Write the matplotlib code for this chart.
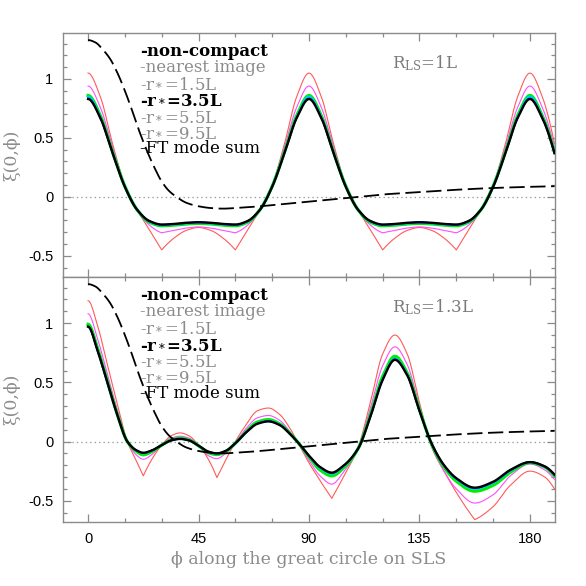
import numpy as np
import matplotlib
matplotlib.use("Agg")
import matplotlib.pyplot as plt
from matplotlib.ticker import MultipleLocator, FixedLocator, FixedFormatter

plt.rcParams['font.family'] = ['Liberation Sans', 'DejaVu Sans']
plt.rcParams['mathtext.fontset'] = 'dejavuserif'
plt.rcParams['axes.unicode_minus'] = False
plt.rcParams['lines.scale_dashes'] = False

# ---------------- data ----------------
# non-compact correlation (same in both panels)
nc_phi = [0, 3, 6, 9, 12, 15, 18, 21, 24, 27, 30, 33, 36, 40, 45, 50, 55, 60, 70, 80,
          90, 100, 110, 120, 135, 150, 165, 180, 190]
nc_val = [1.33, 1.31, 1.25, 1.17, 1.05, 0.90, 0.73, 0.55, 0.39, 0.25, 0.13, 0.05, 0.0,
          -0.05, -0.08, -0.095, -0.10, -0.095, -0.08, -0.06, -0.04, -0.02, 0.0, 0.02,
          0.04, 0.06, 0.075, 0.085, 0.09]

# top panel, R_LS = 1L
phi_top = [0, 5, 10, 15, 20, 25, 30, 35, 40, 45, 50, 55, 60, 65, 70, 75, 80, 85, 90, 95,
           100, 105, 110, 115, 120, 125, 130, 135, 140, 145, 150, 155, 160, 165, 170, 175,
           180, 185, 190]
nearest_top = [1.05, 0.85, 0.45, 0.10, -0.11, -0.28, -0.45, -0.35, -0.285, -0.26, -0.285,
               -0.35, -0.45, -0.28, -0.11, 0.10, 0.45, 0.85, 1.05, 0.85, 0.45, 0.10, -0.11,
               -0.28, -0.45, -0.35, -0.285, -0.26, -0.285, -0.35, -0.45, -0.28, -0.11, 0.10,
               0.45, 0.85, 1.05, 0.85, 0.45]
r15_top = [0.94, 0.76, 0.42, 0.10, -0.11, -0.24, -0.305, -0.285, -0.265, -0.255, -0.265,
           -0.285, -0.305, -0.24, -0.11, 0.10, 0.42, 0.76, 0.94, 0.76, 0.42, 0.10, -0.11,
           -0.24, -0.305, -0.285, -0.265, -0.255, -0.265, -0.285, -0.305, -0.24, -0.11, 0.10,
           0.42, 0.76, 0.94, 0.76, 0.42]
r35_top = [0.86, 0.69, 0.38, 0.09, -0.11, -0.215, -0.245, -0.24, -0.23, -0.225, -0.23,
           -0.24, -0.245, -0.215, -0.11, 0.09, 0.38, 0.69, 0.86, 0.69, 0.38, 0.09, -0.11,
           -0.215, -0.245, -0.24, -0.23, -0.225, -0.23, -0.24, -0.245, -0.215, -0.11, 0.09,
           0.38, 0.69, 0.86, 0.69, 0.38]
r55_top = [0.85, 0.68, 0.375, 0.088, -0.11, -0.21, -0.24, -0.235, -0.225, -0.22, -0.225,
           -0.235, -0.24, -0.21, -0.11, 0.088, 0.375, 0.68, 0.85, 0.68, 0.375, 0.088, -0.11,
           -0.21, -0.24, -0.235, -0.225, -0.22, -0.225, -0.235, -0.24, -0.21, -0.11, 0.088,
           0.375, 0.68, 0.85, 0.68, 0.375]
r95_top = [0.835, 0.672, 0.372, 0.086, -0.11, -0.207, -0.237, -0.232, -0.222, -0.217,
           -0.222, -0.232, -0.237, -0.207, -0.11, 0.086, 0.372, 0.672, 0.835, 0.672, 0.372,
           0.086, -0.11, -0.207, -0.237, -0.232, -0.222, -0.217, -0.222, -0.232, -0.237,
           -0.207, -0.11, 0.086, 0.372, 0.672, 0.835, 0.672, 0.372]
ft_top = [0.83, 0.67, 0.37, 0.085, -0.11, -0.205, -0.235, -0.23, -0.22, -0.215, -0.22,
          -0.23, -0.235, -0.205, -0.11, 0.085, 0.37, 0.67, 0.83, 0.67, 0.37, 0.085, -0.11,
          -0.205, -0.235, -0.23, -0.22, -0.215, -0.22, -0.23, -0.235, -0.205, -0.11, 0.085,
          0.37, 0.67, 0.83, 0.67, 0.37]

# bottom panel, R_LS = 1.3L
phi_bot = [0, 4, 8, 12, 16, 19.5, 22.5, 26, 30, 34, 37.5, 41, 45, 49, 52.5, 56, 60, 64, 69,
           73.5, 78, 82, 86, 90, 94.5, 99.3, 104, 110, 115, 120, 125, 130, 135, 140, 145,
           150, 157.5, 165, 172, 180, 186, 190]
nearest_bot = [1.19, 0.97, 0.64, 0.31, 0.0, -0.155, -0.29, -0.15, -0.03, 0.05, 0.073, 0.05,
               -0.03, -0.15, -0.305, -0.16, 0.0, 0.13, 0.26, 0.283, 0.23, 0.12, -0.03, -0.18,
               -0.33, -0.48, -0.30, -0.05, 0.33, 0.74, 0.90, 0.74, 0.33, -0.05, -0.25, -0.43,
               -0.66, -0.55, -0.37, -0.25, -0.30, -0.40]
r15_bot = [1.08, 0.86, 0.56, 0.26, 0.0, -0.11, -0.15, -0.11, -0.025, 0.03, 0.045, 0.03,
           -0.035, -0.12, -0.145, -0.10, -0.01, 0.10, 0.20, 0.22, 0.18, 0.09, -0.025, -0.16,
           -0.29, -0.36, -0.26, -0.055, 0.28, 0.64, 0.80, 0.65, 0.30, -0.04, -0.25, -0.40,
           -0.52, -0.45, -0.29, -0.19, -0.24, -0.32]
r35_bot = [0.99, 0.78, 0.50, 0.225, 0.0, -0.08, -0.112, -0.085, -0.03, 0.015, 0.028,
           0.015, -0.035, -0.095, -0.11, -0.085, -0.015, 0.075, 0.165, 0.185, 0.15, 0.075,
           -0.02, -0.13, -0.24, -0.29, -0.225, -0.06, 0.225, 0.55, 0.72, 0.58, 0.27, -0.025,
           -0.215, -0.335, -0.42, -0.37, -0.26, -0.178, -0.215, -0.29]
r55_bot = [0.975, 0.765, 0.493, 0.222, 0.0, -0.074, -0.10, -0.078, -0.03, 0.012, 0.024,
           0.012, -0.035, -0.088, -0.104, -0.082, -0.015, 0.072, 0.155, 0.175, 0.145, 0.072,
           -0.02, -0.123, -0.223, -0.272, -0.212, -0.06, 0.215, 0.53, 0.70, 0.567, 0.263,
           -0.022, -0.205, -0.318, -0.40, -0.35, -0.247, -0.175, -0.212, -0.283]
r95_bot = [0.972, 0.762, 0.491, 0.221, 0.0, -0.073, -0.097, -0.076, -0.03, 0.011, 0.023,
           0.011, -0.035, -0.086, -0.102, -0.081, -0.015, 0.071, 0.152, 0.172, 0.142, 0.071,
           -0.02, -0.121, -0.218, -0.266, -0.207, -0.06, 0.212, 0.525, 0.695, 0.563, 0.261,
           -0.021, -0.202, -0.313, -0.393, -0.343, -0.243, -0.174, -0.21, -0.28]
ft_bot = [0.97, 0.76, 0.49, 0.22, 0.0, -0.072, -0.095, -0.075, -0.03, 0.01, 0.022, 0.01,
          -0.035, -0.085, -0.10, -0.08, -0.015, 0.07, 0.15, 0.17, 0.14, 0.07, -0.02, -0.12,
          -0.215, -0.263, -0.205, -0.06, 0.21, 0.52, 0.69, 0.56, 0.26, -0.02, -0.20, -0.31,
          -0.39, -0.34, -0.24, -0.174, -0.21, -0.28]

# cusp positions (degrees) where the nearest-image style curves have corners
cusps_top_red = [30, 60, 120, 150]
cusps_top_mag = [30, 60, 120, 150]
cusps_bot_red = [22.5, 52.5, 99.3, 157.5]

legend_labels = ["-non-compact", "-nearest image", "-r$_*$=1.5L", "-r$_*$=3.5L",
                 "-r$_*$=5.5L", "-r$_*$=9.5L", "-FT mode sum"]
panel_labels = [r"R$_{\rm LS}$=1L", r"R$_{\rm LS}$=1.3L"]
xticks = [0, 45, 90, 135, 180]
xtick_labels = ["0", "45", "90", "135", "180"]
yticks = [-0.5, 0, 0.5, 1]
ytick_labels = ["-0.5", "0", "0.5", "1"]


# ---------------- drawing helpers ----------------
def _pchip_slopes(x, y):
    h = np.diff(x)
    d = np.diff(y) / h
    n = len(x)
    m = np.zeros(n)
    if n == 2:
        m[:] = d[0]
        return m
    for k in range(1, n - 1):
        if d[k - 1] * d[k] <= 0:
            m[k] = 0.0
        else:
            w1 = 2 * h[k] + h[k - 1]
            w2 = h[k] + 2 * h[k - 1]
            m[k] = (w1 + w2) / (w1 / d[k - 1] + w2 / d[k])

    def end(h0, h1, d0, d1):
        s = ((2 * h0 + h1) * d0 - h0 * d1) / (h0 + h1)
        if np.sign(s) != np.sign(d0):
            s = 0.0
        elif np.sign(d0) != np.sign(d1) and abs(s) > abs(3 * d0):
            s = 3 * d0
        return s
    m[0] = end(h[0], h[1], d[0], d[1])
    m[-1] = end(h[-1], h[-2], d[-1], d[-2])
    return m


def _pchip_eval(x, y, flat_start=False, npts=30):
    x = np.asarray(x, float)
    y = np.asarray(y, float)
    m = _pchip_slopes(x, y)
    if flat_start:
        m[0] = 0.0
    xs, ys = [], []
    for k in range(len(x) - 1):
        t = np.linspace(0, 1, npts, endpoint=(k == len(x) - 2))
        h = x[k + 1] - x[k]
        h00 = 2 * t**3 - 3 * t**2 + 1
        h10 = t**3 - 2 * t**2 + t
        h01 = -2 * t**3 + 3 * t**2
        h11 = t**3 - t**2
        xs.append(x[k] + t * h)
        ys.append(h00 * y[k] + h10 * h * m[k] + h01 * y[k + 1] + h11 * h * m[k + 1])
    return np.concatenate(xs), np.concatenate(ys)


def smooth_curve(x, y, cusps=()):
    x = list(x)
    y = list(y)
    idx = [0] + [x.index(c) for c in cusps if c in x] + [len(x) - 1]
    idx = sorted(set(idx))
    X, Y = [], []
    for j, (a, b) in enumerate(zip(idx[:-1], idx[1:])):
        xx, yy = _pchip_eval(x[a:b + 1], y[a:b + 1], flat_start=(j == 0))
        X.append(xx)
        Y.append(yy)
    return np.concatenate(X), np.concatenate(Y)


# ---------------- figure ----------------
fig = plt.figure(figsize=(5.86, 5.86), dpi=100)
ax_top = fig.add_axes([0.1075, 0.5273, 0.8396, 0.4164])
ax_bot = fig.add_axes([0.1075, 0.1092, 0.8396, 0.4181])

SPINE = '#8a8a8a'
GRAY_TXT = '#8c8c8c'
serif = ['DejaVu Serif']

panels = [
    (ax_top, phi_top, nearest_top, r15_top, r35_top, r55_top, r95_top, ft_top,
     cusps_top_red, cusps_top_mag, panel_labels[0]),
    (ax_bot, phi_bot, nearest_bot, r15_bot, r35_bot, r55_bot, r95_bot, ft_bot,
     cusps_bot_red, [], panel_labels[1]),
]

for (ax, phi, near, r15, r35, r55, r95, ft, cr, cm, plab) in panels:
    ax.axhline(0, color='#9a9a9a', lw=0.9, ls=(0, (1.0, 2.2)), zorder=1)
    x, y = smooth_curve(phi, near, cr)
    ax.plot(x, y, color='#ff5a5a', lw=0.8, zorder=2)
    x, y = smooth_curve(phi, r15, cm)
    ax.plot(x, y, color='#ff4dff', lw=0.8, zorder=3)
    x, y = smooth_curve(phi, r35)
    ax.plot(x, y, color='#00ee00', lw=2.3, zorder=4)
    x, y = smooth_curve(phi, r55)
    ax.plot(x, y, color='#00c8ff', lw=1.6, zorder=5)
    x, y = smooth_curve(phi, r95)
    ax.plot(x, y, color='#2040ff', lw=1.2, zorder=6)
    x, y = smooth_curve(phi, ft)
    ax.plot(x, y, color='black', lw=1.7, zorder=7)
    x, y = smooth_curve(nc_phi, nc_val)
    ax.plot(x, y, color='black', lw=1.3, dashes=(11, 4), zorder=8)

    ax.set_xlim(-10.2, 190.2)
    ax.set_ylim(-0.68, 1.39)
    ax.xaxis.set_major_locator(FixedLocator(xticks))
    ax.xaxis.set_minor_locator(MultipleLocator(15))
    ax.yaxis.set_major_locator(FixedLocator(yticks))
    ax.yaxis.set_major_formatter(FixedFormatter(ytick_labels))
    ax.yaxis.set_minor_locator(MultipleLocator(0.1))
    ax.tick_params(which='both', direction='in', top=True, right=True, color=SPINE,
                   width=0.9, labelsize=10.5, labelcolor='black')
    ax.tick_params(which='major', length=6, pad=7)
    ax.tick_params(which='minor', length=3)
    for s in ax.spines.values():
        s.set_color(SPINE)
        s.set_linewidth(1.0)

    # legend made of text lines
    styles = [('black', 'bold'), (GRAY_TXT, 'normal'), (GRAY_TXT, 'normal'),
              ('black', 'bold'), (GRAY_TXT, 'normal'), (GRAY_TXT, 'normal'),
              ('black', 'normal')]
    for i, (lab, (col, wt)) in enumerate(zip(legend_labels, styles)):
        ax.text(0.157, 0.925 - i * 0.0665, lab, transform=ax.transAxes, color=col,
                fontweight=wt, fontsize=12, family=serif, va='center', ha='left', zorder=10)
    ax.text(0.669, 0.875, plab, transform=ax.transAxes, color='#7a7a7a', fontsize=12,
            family=serif, va='center', ha='left')
    ax.set_ylabel("ξ(0,ϕ)", family=serif, color=GRAY_TXT, fontsize=12.5)
    ax.yaxis.set_label_coords(-0.086, 0.5)

ax_top.tick_params(labelbottom=False)
ax_bot.xaxis.set_major_formatter(FixedFormatter(xtick_labels))
ax_bot.set_xlabel("ϕ along the great circle on SLS", family=serif, color=GRAY_TXT,
                  fontsize=12.5, labelpad=4)

fig.savefig("out.png", dpi=100)
